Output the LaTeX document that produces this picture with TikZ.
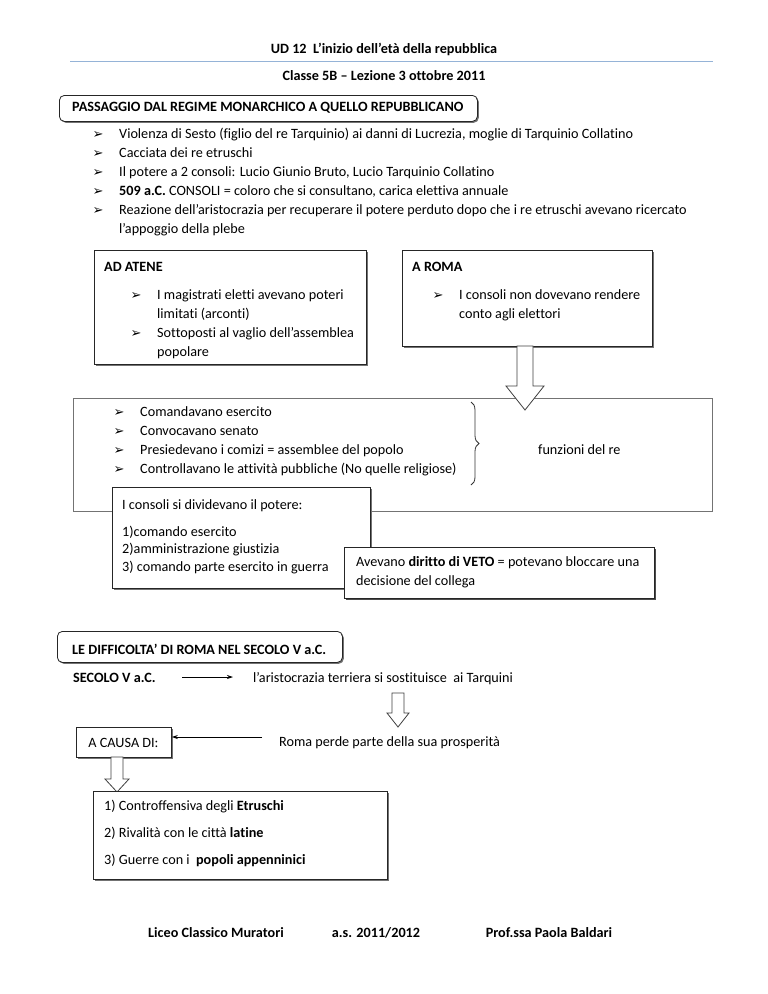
\documentclass[tikz,border=0pt]{standalone}
\usepackage{fontspec}
\setmainfont{Carlito}[Ligatures=NoCommon]
\newfontfamily\dejavu{DejaVu Sans}
\usetikzlibrary{shadows,calc,arrows.meta,decorations.pathreplacing}
\newcommand\mk{{\dejavu\fontsize{13}{13}\selectfont ➢}}
\newcommand\blockdown[6]{% x, ytop, ybottom, shaft half, head half, head length
  \filldraw[fill=white,draw=black!75,line width=0.8pt]
   (#1-#4,#2) -- (#1+#4,#2) -- (#1+#4,#3-#6) -- (#1+#5,#3-#6) -- (#1,#3)
   -- (#1-#5,#3-#6) -- (#1-#4,#3-#6) -- cycle;}
\begin{document}
\begin{tikzpicture}[x=1pt,y=-1pt,font=\fontsize{14.2}{19}\selectfont,
  txt/.style={anchor=base west,inner sep=0pt},
  ctr/.style={anchor=base,inner sep=0pt},
  bul/.style={anchor=base,inner sep=0pt},
  hd/.style={txt,font=\fontsize{14.2}{19}\selectfont\bfseries},
  box/.style={draw=black!85,line width=0.8pt,fill=white,anchor=north west,inner sep=0pt,
    drop shadow={shadow xshift=1.4pt,shadow yshift=-1.4pt,fill=black!55,opacity=1}},
  plainbox/.style={draw=black!55,line width=0.8pt,fill=white,anchor=north west,inner sep=0pt},
  rbox/.style={box,rounded corners=5pt}]
\useasboundingbox (0,0) rectangle (768,994);
\fill[white] (0,0) rectangle (768,994);

% header
\node[ctr,font=\fontsize{14.2}{19}\selectfont\bfseries] (title) at (384,53) {UD 12\ \ L’inizio dell’età della repubblica};
\draw[color={rgb,255:red,149;green,179;blue,215},line width=0.9pt] (70,61) -- (713,61);
\node[ctr,font=\fontsize{14.2}{19}\selectfont\bfseries] (sub) at (384,80) {Classe 5B – Lezione 3 ottobre 2011};

% first rounded title box
\node[rbox,minimum width=418,minimum height=26] (pass) at (59,95) {};
\node[hd] (passt) at (72,111) {PASSAGGIO DAL REGIME MONARCHICO A QUELLO REPUBBLICANO};

% bullets
\foreach \yy/\tt in {138/{Violenza di Sesto (figlio del re Tarquinio) ai danni di Lucrezia, moglie di Tarquinio Collatino},
  157/{Cacciata dei re etruschi},
  176/{Il potere a 2 consoli: Lucio Giunio Bruto, Lucio Tarquinio Collatino},
  195/{\textbf{509 a.C.} CONSOLI = coloro che si consultano, carica elettiva annuale},
  214/{Reazione dell’aristocrazia per recuperare il potere perduto dopo che i re etruschi avevano ricercato}}{
  \node[bul] at (98,\yy) {\mk};
  \node[txt] at (119,\yy) {\tt};
}
\node[txt] (b6) at (119,233) {l’appoggio della plebe};

% AD ATENE
\node[box,minimum width=272,minimum height=114] (atene) at (94,250) {};
\node[hd] at (104,271) {AD ATENE};
\node[bul] at (136,299) {\mk};
\node[txt] at (157,299) {I magistrati eletti avevano poteri};
\node[txt] at (157,318) {limitati (arconti)};
\node[bul] at (136,337) {\mk};
\node[txt] at (157,337) {Sottoposti al vaglio dell’assemblea};
\node[txt] at (157,356) {popolare};

% A ROMA
\node[box,minimum width=250,minimum height=96] (roma) at (402,250) {};
\node[hd] at (412,271) {A ROMA};
\node[bul] at (438,299) {\mk};
\node[txt] at (459,299) {I consoli non dovevano rendere};
\node[txt] at (459,318) {conto agli elettori};

% big box
\node[plainbox,minimum width=639,minimum height=113] (big) at (73,398) {};
\blockdown{525}{346}{410}{8}{19}{24}
\foreach \yy/\tt in {416/{Comandavano esercito},435/{Convocavano senato},
  454/{Presiedevano i comizi = assemblee del popolo},
  473/{Controllavano le attività pubbliche (No quelle religiose)}}{
  \node[bul] at (119,\yy) {\mk};
  \node[txt] at (140,\yy) {\tt};
}
\draw[black!80,line width=0.8pt,decorate,decoration={brace,amplitude=8pt}] (471,402) -- (471,485);
\node[txt] (funz) at (538,454) {funzioni del re};

% consoli box
\node[box,minimum width=258,minimum height=101] (cons) at (112,487) {};
\node[txt] at (122,509) {I consoli si dividevano il potere:};
\node[txt] at (122,536) {1)comando esercito};
\node[txt] at (122,553) {2)amministrazione giustizia};
\node[txt] at (122,571) {3) comando parte esercito in guerra};

% veto box
\node[box,minimum width=310,minimum height=51,
  drop shadow={shadow xshift=2pt,shadow yshift=-2pt,fill=black!70,opacity=1}] (veto) at (344,547) {};
\node[txt] at (356,566) {Avevano \textbf{diritto di VETO} = potevano bloccare una};
\node[txt] at (356,585) {decisione del collega};

% second part
\node[rbox,minimum width=285,minimum height=31] (diff) at (57,631) {};
\node[hd] at (72,654) {LE DIFFICOLTA’ DI ROMA NEL SECOLO V a.C.};

\node[hd] (sec) at (73,682) {SECOLO V a.C.};
\node[txt] (aris) at (253,682) {l’aristocrazia terriera si sostituisce\ \ ai Tarquini};
\coordinate (s1) at (182,677);
\coordinate (s2) at (233,677);
\draw[line width=0.8pt,-{Stealth[length=6pt,width=4pt]}] (s1) -- (s2);

\blockdown{398}{693}{727}{6}{11}{14}

\node[box,minimum width=95,minimum height=30] (causa) at (76,727) {};
\node[ctr] at (123.5,747) {A CAUSA DI:};
\node[txt] (roma2) at (279,746) {Roma perde parte della sua prosperità};
\coordinate (r1) at (262,737);
\draw[line width=0.8pt,-{Stealth[length=6pt,width=4pt]}] (r1) -- (causa.east |- r1);

\blockdown{117}{757}{792}{6}{12}{13}

\node[box,minimum width=294,minimum height=88] (cause) at (93,791) {};
\node[txt] at (104,810) {1) Controffensiva degli \textbf{Etruschi}};
\node[txt] at (104,837) {2) Rivalità con le città \textbf{latine}};
\node[txt] at (104,864) {3) Guerre con i\ \ \textbf{popoli appenninici}};

% footer
\node[ctr,font=\fontsize{14.2}{19}\selectfont\bfseries] at (216,937) {Liceo Classico Muratori};
\node[ctr,font=\fontsize{14.2}{19}\selectfont\bfseries] at (376,937) {a.s. 2011/2012};
\node[ctr,font=\fontsize{14.2}{19}\selectfont\bfseries] at (549,937) {Prof.ssa Paola Baldari};
\end{tikzpicture}
\end{document}
